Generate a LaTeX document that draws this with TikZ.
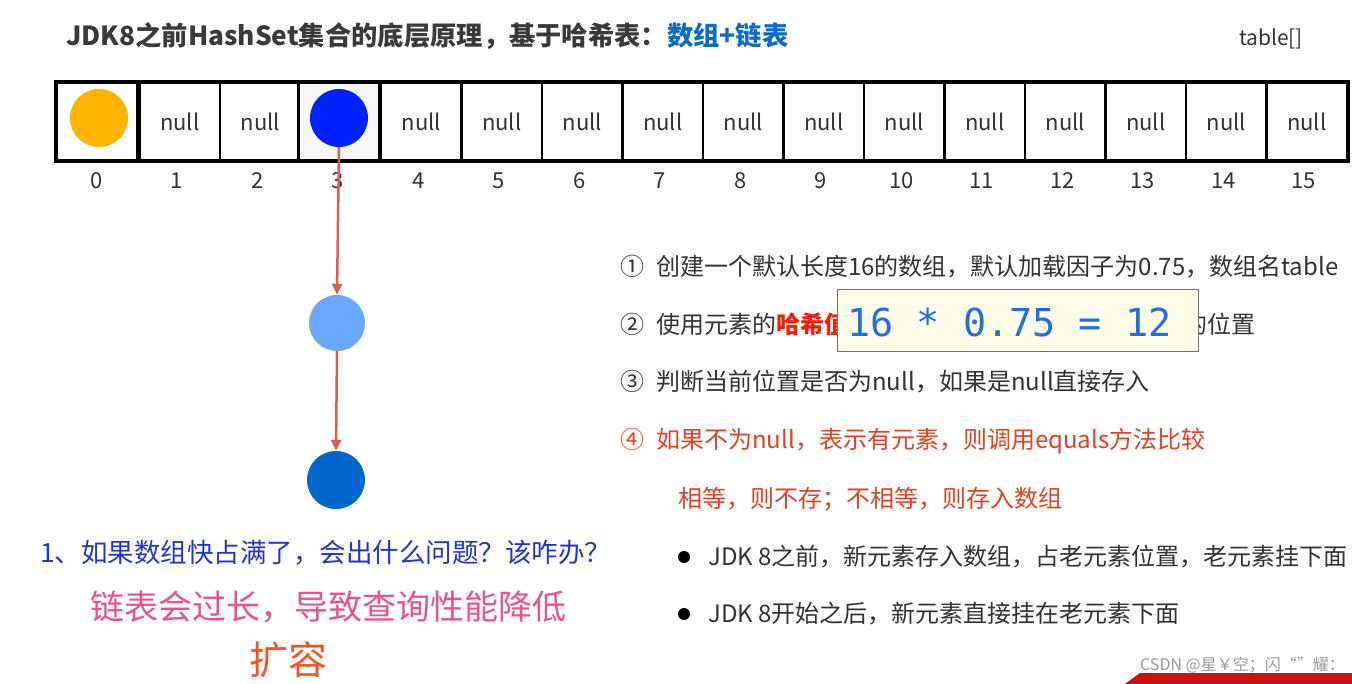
\documentclass[tikz,border=0pt]{standalone}
\usepackage{fontspec}
\setmainfont{Noto Sans CJK SC}
\newfontfamily\monof{DejaVu Sans Mono}
\usetikzlibrary{arrows.meta}
\definecolor{txtgray}{HTML}{333333}
\definecolor{titlegray}{HTML}{3A3A3A}
\definecolor{titleblue}{HTML}{0A6CC8}
\definecolor{orangeball}{HTML}{FFB400}
\definecolor{blueball}{HTML}{0022FF}
\definecolor{lightball}{HTML}{6AA8FF}
\definecolor{darkball}{HTML}{0066CC}
\definecolor{arrowred}{HTML}{D9604C}
\definecolor{redtxt}{HTML}{E8401C}
\definecolor{hashred}{HTML}{FF1A00}
\definecolor{boxfill}{HTML}{FFFCE8}
\definecolor{monoblue}{HTML}{1E70E8}
\definecolor{handblue}{HTML}{2233DD}
\definecolor{handpink}{HTML}{F0508A}
\definecolor{handorange}{HTML}{FF5020}
\definecolor{wmgray}{HTML}{9A9A9A}
\definecolor{barred}{HTML}{CC1111}
\begin{document}
\begin{tikzpicture}[x=1pt,y=-1pt,
  txt/.style={inner sep=0pt, text=txtgray, font=\fontsize{24}{28}\selectfont},
  cellbox/.style={draw=black, line width=2.5pt, minimum width=80.5pt, minimum height=77pt, inner sep=0pt, font=\fontsize{22}{26}\selectfont, text=txtgray},
  idx/.style={inner sep=0pt, text=txtgray, font=\fontsize{22}{26}\selectfont},
  ball/.style={circle, inner sep=0pt, minimum size=58pt},
  arr/.style={draw=arrowred, line width=2.5pt, -{Triangle[length=11pt,width=10pt]}},
  hand/.style={inner sep=0pt}
]
\useasboundingbox (0,0) rectangle (1352,684);
\fill[white] (0,0) rectangle (1352,684);

% title
\node[anchor=west, inner sep=0pt, text=titlegray, font=\fontsize{26.3}{30}\selectfont\bfseries] (title) at (66,36)
  {JDK8之前HashSet集合的底层原理，基于哈希表：\textcolor{titleblue}{数组+链表}};
\node[inner sep=0pt, text=txtgray, font=\fontsize{21}{25}\selectfont] (tbl) at (1271,39) {table[]};

% array cells
\foreach \i in {0,...,15} {
  \pgfmathsetmacro{\cx}{57+80.5*\i+40.25}
  \ifnum\i=0
    \node[cellbox] (c\i) at (\cx,121.5) {};
  \else\ifnum\i=3
    \node[cellbox, fill=black!3] (c\i) at (\cx,121.5) {};
  \else
    \node[cellbox] (c\i) at (\cx+2,121.5) {null};
  \fi\fi
  \node[idx] (i\i) at (\cx-1,181) {\i};
}
\draw[line width=3pt] (c0.north west) rectangle (c15.south east);

% elements
\node[ball, fill=orangeball] (e0) at (99,118) {};
\node[ball, fill=blueball] (e3) at (339,118) {};
\node[ball, fill=lightball, minimum size=56pt] (n1) at (337,323) {};
\node[ball, fill=darkball] (n2) at (336,480) {};
\draw[arr] (e3.south) -- (n1.north);
\draw[arr] (n1.south) -- (n2.north);

% right-hand text
\node[txt, anchor=west] (s1) at (620,267) {①\hspace{0.5em}创建一个默认长度16的数组，默认加载因子为0.75，数组名table};
\node[txt, anchor=west] (s2) at (620,324) {②\hspace{0.5em}使用元素的\textcolor{hashred}{\bfseries 哈希值}};
\node[txt, anchor=west] (s2b) at (1183,324) {的位置};
\node[draw=black!55, fill=boxfill, line width=1pt, minimum width=361pt, minimum height=62pt, inner sep=0pt] (calc) at (1017.5,321) {};
\node[inner sep=0pt, anchor=west, text=monoblue, font=\monof\fontsize{38.5}{42}\selectfont] (calctxt) at (847,322) {16 * 0.75 = 12};
\node[txt, anchor=west] (s3) at (620,382) {③\hspace{0.5em}判断当前位置是否为null，如果是null直接存入};
\node[txt, anchor=west, text=redtxt] (s4) at (620,441) {④\hspace{0.5em}如果不为null，表示有元素，则调用equals方法比较};
\node[txt, anchor=west, text=redtxt] (s5) at (678,499) {相等，则不存；不相等，则存入数组};
\node[circle, fill=black, inner sep=0pt, minimum size=12pt] (b1) at (684,557) {};
\node[txt, anchor=west] (s6) at (708,557) {JDK 8之前，新元素存入数组，占老元素位置，老元素挂下面};
\node[circle, fill=black, inner sep=0pt, minimum size=12pt] (b2) at (684,614) {};
\node[txt, anchor=west] (s7) at (708,614) {JDK 8开始之后，新元素直接挂在老元素下面};

% handwritten notes
\node[hand, anchor=west, text=handblue, font=\fontsize{26.5}{30}\selectfont] (q1) at (40,553) {1、如果数组快占满了，会出什么问题？该咋办？};
\node[hand, anchor=west, text=handpink, font=\fontsize{34}{38}\selectfont] (q2) at (90,607) {链表会过长，导致查询性能降低};
\node[hand, anchor=west, text=handorange, font=\fontsize{39}{42}\selectfont] (q3) at (249,660) {扩容};

% watermark and bar
\fill[barred] (1125,684) -- (1140,673) -- (1352,673) -- (1352,684) -- cycle;
\node[inner sep=0pt, anchor=east, text=wmgray, font=\fontsize{16}{18}\selectfont] (wm) at (1345,665) {CSDN @星￥空；闪“”耀：};
\end{tikzpicture}
\end{document}
